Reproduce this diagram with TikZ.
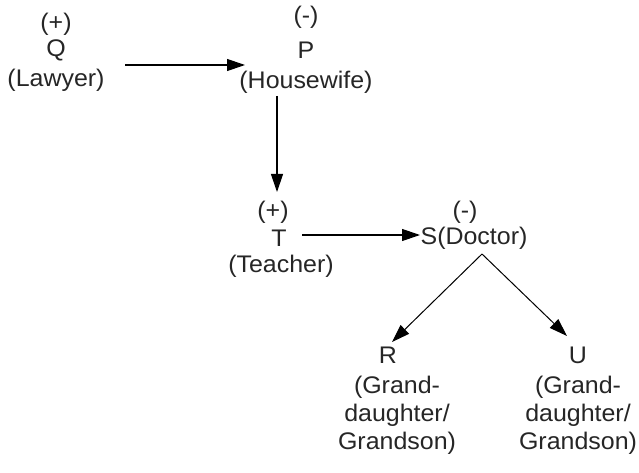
\documentclass[tikz,border=0pt]{standalone}
\usepackage{fontspec}
\setmainfont[FakeStretch=1.04]{Liberation Sans}
\usetikzlibrary{arrows.meta}
\begin{document}
\begin{tikzpicture}[x=1pt,y=-1pt,
  lbl/.style={inner sep=0pt,font=\fontsize{24}{28}\selectfont,align=center,text=black!85},
  arr/.style={line width=1.2pt,-{Triangle[length=18pt,width=12pt]}},
  dia/.style={line width=1pt,-{Triangle[length=18pt,width=12pt]}}]
\path[use as bounding box,fill=white] (0,0) rectangle (639,473);
% Q
\node[lbl] (qs) at (56,24) {(+)};
\node[lbl] (q)  at (56,50) {Q};
\node[lbl] (qj) at (56,80) {(Lawyer)};
% P
\node[lbl] (ps) at (306,17) {(-)};
\node[lbl] (p)  at (306,50) {P};
\node[lbl] (pj) at (306,82) {(Housewife)};
% T
\node[lbl] (ts) at (273,212) {(+)};
\node[lbl] (t)  at (279,238) {T};
\node[lbl] (tj) at (281,266) {(Teacher)};
% S
\node[lbl] (ss) at (465,212) {(-)};
\node[lbl] (s)  at (474,238) {S(Doctor)};
% R, U
\node[lbl] (r)  at (388,355) {R};
\node[lbl] (rj) at (397,415) {(Grand-\\daughter/\\Grandson)};
\node[lbl] (u)  at (578,355) {U};
\node[lbl] (uj) at (578,415) {(Grand-\\daughter/\\Grandson)};
% connector end points
\coordinate (qa) at (125,65);
\coordinate (pa) at (245,65);
\coordinate (pb) at (277,96);
\coordinate (tb) at (277,192);
\coordinate (ta) at (302,235);
\coordinate (sa) at (420,235);
\coordinate (apex) at (482,254);
\coordinate (rt) at (392,342);
\coordinate (ut) at (567,336);
\draw[arr] (qa) -- (pa);
\draw[arr] (pb) -- (tb);
\draw[arr] (ta) -- (sa);
\draw[dia] (apex) -- (rt);
\draw[dia] (apex) -- (ut);
\end{tikzpicture}
\end{document}
